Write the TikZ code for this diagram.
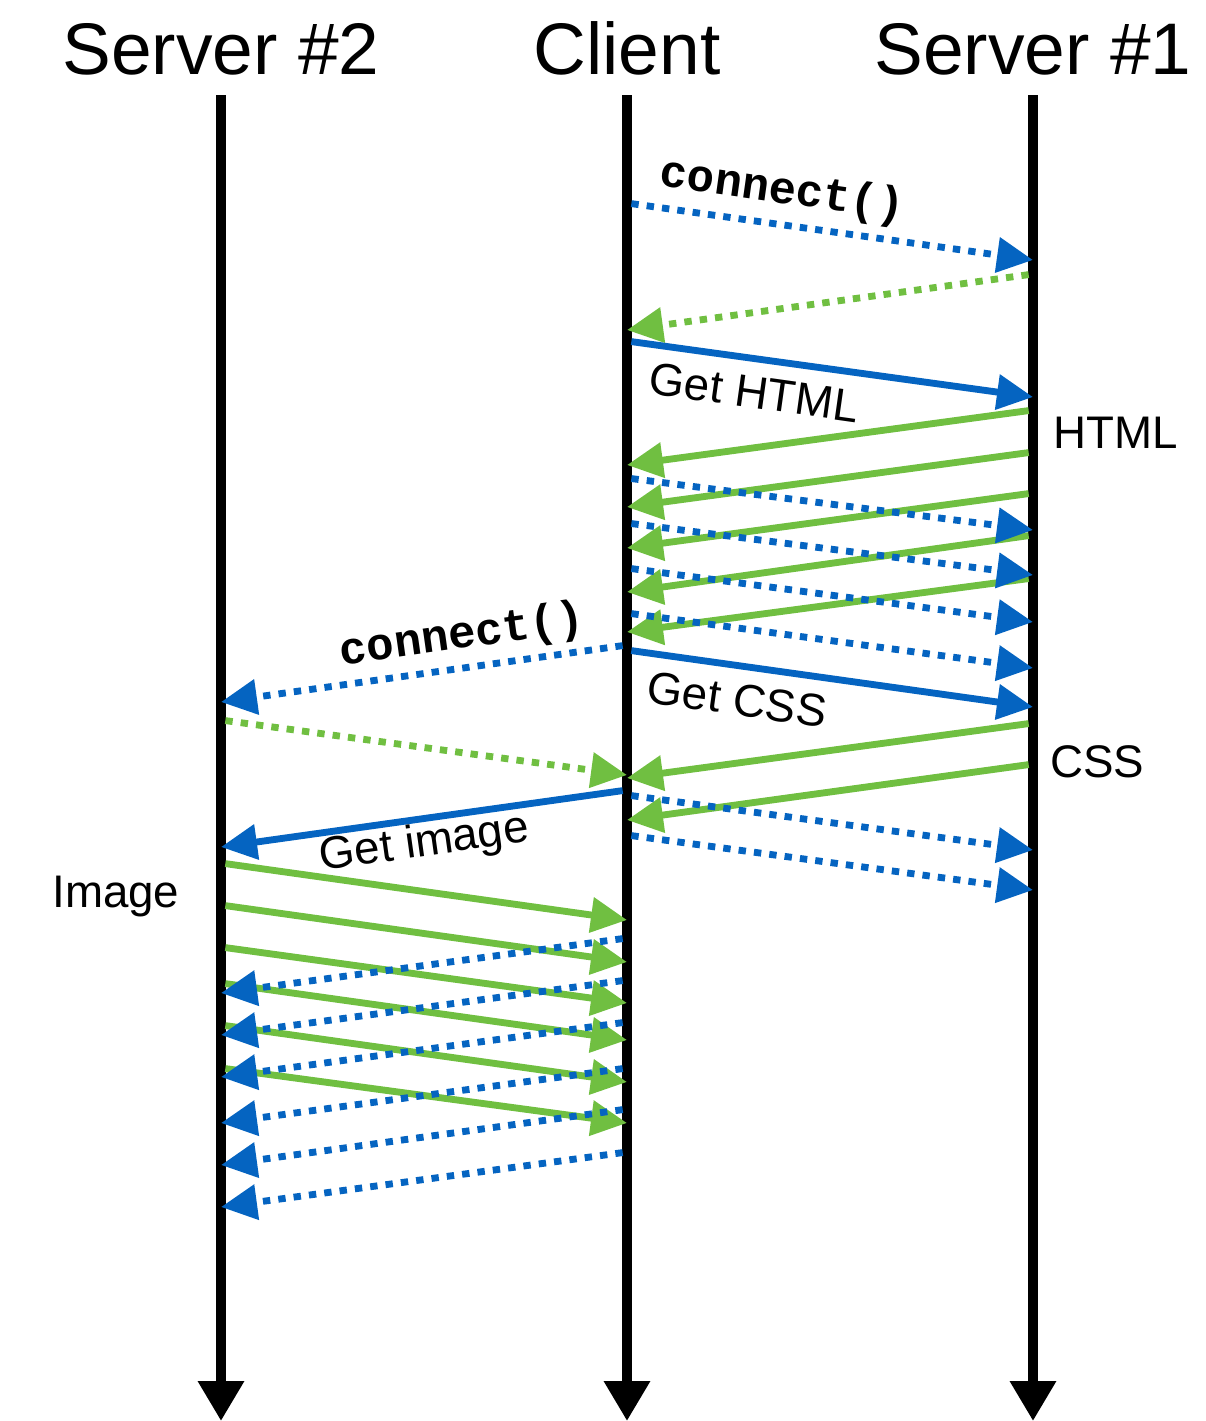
\documentclass[tikz,border=0pt]{standalone}
\usepackage{fontspec}
\setmainfont{Liberation Sans}
\setmonofont{Liberation Mono}
\usetikzlibrary{arrows.meta}
\definecolor{askblue}{RGB}{5,100,193}
\definecolor{replygreen}{RGB}{112,191,65}

\begin{document}
\begin{tikzpicture}[x=0.02cm, y=-0.02cm,
  every node/.style={inner sep=0pt},
  head/.style={font=\fontsize{41.6}{48}\selectfont, anchor=base},
  lbl/.style={font=\fontsize{26}{30}\selectfont, anchor=base},
  call/.style={font=\fontsize{26}{30}\selectfont\ttfamily\bfseries, anchor=base},
  lifeline/.style={line width=5.4pt, -{Triangle[length=22.7pt,width=25pt]}},
  msg/.style={line width=3.9pt, shorten <=2.5pt, -{Triangle[length=20.5pt,width=19.5pt]}},
  ask/.style={msg, askblue},
  askdot/.style={ask, dash pattern=on 4.2pt off 4.6pt},
  reply/.style={msg, replygreen},
  replydot/.style={reply, dash pattern=on 4.2pt off 4.6pt}]

\useasboundingbox (0,0) rectangle (1205,1421);

% Lifelines
\node[head] (t2) at (221,74) {Server \#2};
\node[head] (tc) at (627,74) {Client};
\node[head] (t1) at (1033,74) {Server \#1};

\coordinate (s2) at (221,95);
\coordinate (cl) at (627,95);
\coordinate (s1) at (1033,95);
\coordinate (s2end) at (221,1421);
\coordinate (clend) at (627,1421);
\coordinate (s1end) at (1033,1421);

\draw[lifeline] (s2) -- (s2end);
\draw[lifeline] (cl) -- (clend);
\draw[lifeline] (s1) -- (s1end);

% Server #1: connect and HTML
\draw[askdot] (cl |- 0,203) -- (s1 |- 0,260);
\node[call, rotate=-8] (conn1) at (781,203) {connect()};
\draw[replydot] (s1 |- 0,274) -- (cl |- 0,330);
\draw[ask] (cl |- 0,341) -- (s1 |- 0,397);
\node[lbl, rotate=-8] (gethtml) at (752,408) {Get HTML};
\node[lbl, anchor=base west] (html) at (1053,448) {HTML};

\draw[reply] (s1 |- 0,410) -- (cl |- 0,465);
\draw[reply] (s1 |- 0,452) -- (cl |- 0,507);
\draw[reply] (s1 |- 0,493) -- (cl |- 0,548);
\draw[reply] (s1 |- 0,535) -- (cl |- 0,592);
\draw[reply] (s1 |- 0,578) -- (cl |- 0,632);
\draw[askdot] (cl |- 0,478) -- (s1 |- 0,530);
\draw[askdot] (cl |- 0,523) -- (s1 |- 0,575);
\draw[askdot] (cl |- 0,568) -- (s1 |- 0,622);
\draw[askdot] (cl |- 0,613) -- (s1 |- 0,668);

% Server #1: CSS
\draw[ask] (cl |- 0,650) -- (s1 |- 0,707);
\node[lbl, rotate=-8] (getcss) at (735,715) {Get CSS};
\node[lbl, anchor=base west] (css) at (1050,777) {CSS};
\draw[reply] (s1 |- 0,723) -- (cl |- 0,778);
\draw[reply] (s1 |- 0,764) -- (cl |- 0,820);
\draw[askdot] (cl |- 0,795) -- (s1 |- 0,850);
\draw[askdot] (cl |- 0,835) -- (s1 |- 0,890);

% Server #2: connect and image
\draw[askdot] (cl |- 0,645) -- (s2 |- 0,702);
\node[call, rotate=8] (conn2) at (464,648) {connect()};
\draw[replydot] (s2 |- 0,720) -- (cl |- 0,775);
\draw[ask] (cl |- 0,790) -- (s2 |- 0,847);
\node[lbl, rotate=8] (getimg) at (426,856) {Get image};
\node[lbl, anchor=base west] (img) at (52,907) {Image};

\draw[reply] (s2 |- 0,863) -- (cl |- 0,920);
\draw[reply] (s2 |- 0,905) -- (cl |- 0,962);
\draw[reply] (s2 |- 0,947) -- (cl |- 0,1003);
\draw[reply] (s2 |- 0,983) -- (cl |- 0,1040);
\draw[reply] (s2 |- 0,1025) -- (cl |- 0,1082);
\draw[reply] (s2 |- 0,1068) -- (cl |- 0,1123);
\draw[askdot] (cl |- 0,938) -- (s2 |- 0,993);
\draw[askdot] (cl |- 0,980) -- (s2 |- 0,1035);
\draw[askdot] (cl |- 0,1022) -- (s2 |- 0,1077);
\draw[askdot] (cl |- 0,1068) -- (s2 |- 0,1123);
\draw[askdot] (cl |- 0,1109) -- (s2 |- 0,1165);
\draw[askdot] (cl |- 0,1152) -- (s2 |- 0,1207);

\end{tikzpicture}
\end{document}
